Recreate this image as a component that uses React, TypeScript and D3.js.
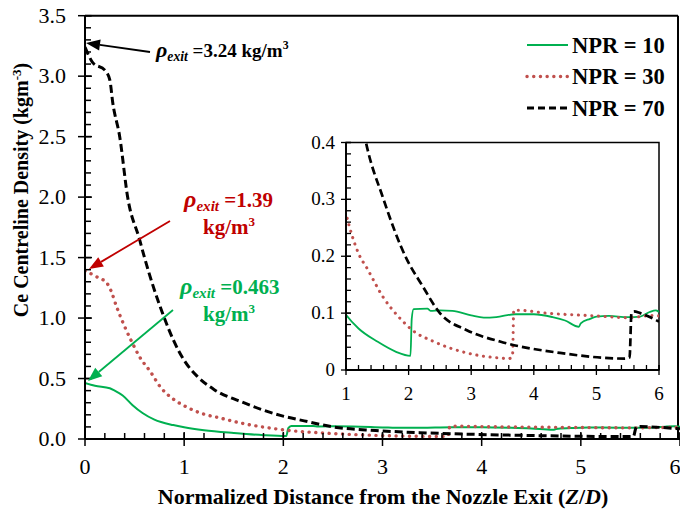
import React from 'react';
import * as d3 from 'd3';

// centreline density
const z10 = [0, 0.1, 0.25, 0.3, 0.38, 0.48, 0.58, 0.7, 0.89, 1.0, 1.2, 1.5, 1.8, 2.03, 2.05, 2.08, 2.3, 2.35, 2.5, 2.7, 3.0, 3.2, 3.4, 3.7, 4.0, 4.3, 4.5, 4.72, 4.75, 4.9, 5.0, 5.2, 5.5, 5.7, 5.85, 5.95, 6.0];
const rho10 = [0.463, 0.44, 0.42, 0.4, 0.36, 0.28, 0.215, 0.16, 0.115, 0.097, 0.073, 0.05, 0.032, 0.025, 0.09, 0.107, 0.108, 0.104, 0.105, 0.104, 0.096, 0.092, 0.093, 0.098, 0.098, 0.093, 0.087, 0.076, 0.082, 0.09, 0.094, 0.095, 0.093, 0.094, 0.102, 0.105, 0.102];

const z30 = [0, 0.12, 0.22, 0.26, 0.32, 0.4, 0.48, 0.55, 0.66, 0.76, 0.89, 1.0, 1.2, 1.34, 1.6, 1.87, 2.06, 2.4, 2.93, 3.46, 3.6, 3.66, 3.68, 3.75, 4.2, 5.0, 5.5, 5.9, 6.0];
const rho30 = [1.39, 1.34, 1.29, 1.23, 1.09, 0.93, 0.79, 0.68, 0.556, 0.43, 0.33, 0.275, 0.205, 0.178, 0.127, 0.09, 0.07, 0.05, 0.03, 0.021, 0.02, 0.025, 0.105, 0.105, 0.1, 0.095, 0.092, 0.096, 0.095];

const z70 = [0, 0.08, 0.2, 0.25, 0.28, 0.35, 0.43, 0.55, 0.6, 0.8, 0.89, 1.0, 1.13, 1.3, 1.6, 1.97, 2.21, 2.5, 2.93, 3.46, 4.42, 5.45, 5.53, 5.56, 5.6, 5.7, 6.0];
const rho70 = [3.24, 3.11, 3.05, 2.97, 2.78, 2.5, 2.0, 1.65, 1.5, 1.0, 0.82, 0.65, 0.52, 0.41, 0.3, 0.195, 0.15, 0.1, 0.07, 0.05, 0.03, 0.02, 0.022, 0.1, 0.103, 0.1, 0.085];

const seriesNames = ['NPR = 10', 'NPR = 30', 'NPR = 70'];
const mainXTicks = [0, 1, 2, 3, 4, 5, 6];
const mainYTicks = [0, 0.5, 1.0, 1.5, 2.0, 2.5, 3.0, 3.5];
const insetXTicks = [1, 2, 3, 4, 5, 6];
const insetYTicks = [0, 0.1, 0.2, 0.3, 0.4];

const GREEN = '#00b050';
const RED = '#c0504d';
const DARKRED = '#c00000';

const styles = [
  { stroke: GREEN, width: 2, dash: null, cap: 'butt' },
  { stroke: RED, width: 3.4, dash: '0.1 6.6', cap: 'round' },
  { stroke: '#000', width: 3, dash: '8 4', cap: 'butt' },
];

const TF = { fontFamily: "'Liberation Serif'" };

export default function App() {
  const x = d3.scaleLinear().domain([0, 6]).range([85, 680]);
  const y = d3.scaleLinear().domain([0, 3.5]).range([439, 15.7]);
  const ix = d3.scaleLinear().domain([1, 6]).range([346, 659]);
  const iy = d3.scaleLinear().domain([0, 0.4]).range([370, 142.5]);

  const data = [
    z10.map((z, i) => [z, rho10[i]]),
    z30.map((z, i) => [z, rho30[i]]),
    z70.map((z, i) => [z, rho70[i]]),
  ];

  const mainLine = d3.line<number[]>().x(d => x(d[0])).y(d => y(d[1])).curve(d3.curveMonotoneX);
  const insetLine = d3.line<number[]>().x(d => ix(d[0])).y(d => iy(d[1])).curve(d3.curveMonotoneX);

  const mainMinorY = d3.range(0, 3.51, 0.1);
  const mainMinorX = d3.range(0, 6.01, 0.2);
  const insetMinorY = d3.range(0, 0.401, 0.02);
  const insetMinorX = d3.range(1, 6.01, 0.2);

  const arrow = (x1, y1, x2, y2, color, key) => {
    const a = Math.atan2(y2 - y1, x2 - x1);
    const L = 14, W = 5.5;
    const bx = x2 - L * Math.cos(a), by = y2 - L * Math.sin(a);
    const px = -Math.sin(a) * W, py = Math.cos(a) * W;
    return (
      <g key={key}>
        <line x1={x1} y1={y1} x2={bx} y2={by} stroke={color} strokeWidth={1.8} />
        <polygon points={`${x2},${y2} ${bx + px},${by + py} ${bx - px},${by - py}`} fill={color} />
      </g>
    );
  };

  const rhoExit = (tx, ty, val, color, size, unitsInline, ux?, uy?) => (
    <g fill={color} fontWeight="bold">
      <text x={tx} y={ty} fontSize={size} style={TF}>
        <tspan fontStyle="italic" fontSize={size + 3}>ρ</tspan>
        <tspan fontStyle="italic" fontSize={size * 0.72} dy={4}>exit</tspan>
        <tspan dy={-4}> ={val}{unitsInline ? ' kg/m' : ''}</tspan>
        {unitsInline && <tspan fontSize={size * 0.62} dy={-8}>3</tspan>}
      </text>
      {!unitsInline && (
        <text x={ux} y={uy} fontSize={size} style={TF}>
          kg/m<tspan fontSize={size * 0.62} dy={-8}>3</tspan>
        </text>
      )}
    </g>
  );

  return (
    <svg width={680} height={512} style={{ position: 'absolute', left: 0, top: 0 }}>
      <rect width={680} height={512} fill="#fff" />
      <defs>
        <clipPath id="insetClip">
          <rect x={ix(1)} y={iy(0.4)} width={ix(6) - ix(1)} height={iy(0) - iy(0.4)} />
        </clipPath>
        <clipPath id="mainClip">
          <rect x={x(0)} y={y(3.5)} width={x(6) - x(0)} height={y(0) - y(3.5)} />
        </clipPath>
      </defs>

      {/* frame */}
      <line x1={x(0)} x2={678} y1={y(3.5)} y2={y(3.5)} stroke="#000" strokeWidth={2} />
      <line x1={678} x2={678} y1={y(3.5)} y2={y(0)} stroke="#000" strokeWidth={2} />

      {/* main curves */}
      <g clipPath="url(#mainClip)">
        {data.map((d, i) => (
          <path key={i} d={mainLine(d)} fill="none" stroke={styles[i].stroke} strokeWidth={styles[i].width}
            strokeDasharray={styles[i].dash || undefined} strokeLinecap={styles[i].cap} />
        ))}
      </g>

      {/* main axes */}
      <line x1={x(0)} x2={x(0)} y1={y(0)} y2={y(3.5)} stroke="#000" strokeWidth={2} />
      <line x1={x(0)} x2={680} y1={y(0)} y2={y(0)} stroke="#000" strokeWidth={2} />
      {mainMinorY.map(v => (
        <line key={'my' + v} x1={x(0)} x2={x(0) + 6} y1={y(v)} y2={y(v)} stroke="#000" strokeWidth={1.5} />
      ))}
      {mainYTicks.map(v => (
        <g key={'Y' + v}>
          <line x1={x(0) - 7} x2={x(0) + 7} y1={y(v)} y2={y(v)} stroke="#000" strokeWidth={1.5} />
          <text x={66} y={y(v) + 7} fontSize={22} textAnchor="end" style={TF}>{v.toFixed(1)}</text>
        </g>
      ))}
      {mainMinorX.map(v => (
        <line key={'mx' + v} x1={x(v)} x2={x(v)} y1={y(0)} y2={y(0) - 6} stroke="#000" strokeWidth={1.5} />
      ))}
      {mainXTicks.map(v => (
        <g key={'X' + v}>
          <line x1={x(v)} x2={x(v)} y1={y(0) - 7} y2={y(0) + 7} stroke="#000" strokeWidth={1.5} />
          <text x={Math.min(x(v), 675)} y={474} fontSize={22} textAnchor="middle" style={TF}>{v}</text>
        </g>
      ))}

      {/* axis titles */}
      <text x={383} y={504} fontSize={22} fontWeight="bold" textAnchor="middle" style={TF}>
        Normalized Distance from the Nozzle Exit (<tspan fontStyle="italic">Z</tspan>/<tspan fontStyle="italic">D</tspan>)
      </text>
      <text transform="translate(28,190) rotate(-90)" fontSize={20} fontWeight="bold" textAnchor="middle" style={TF}>
        Ce Centreline Density (kgm<tspan fontSize={13} dy={-7}>-3</tspan><tspan dy={7}>)</tspan>
      </text>

      {/* inset */}
      <rect x={ix(1)} y={iy(0.4)} width={ix(6) - ix(1)} height={iy(0) - iy(0.4)} fill="#fff" stroke="#000" strokeWidth={1.5} />
      <g clipPath="url(#insetClip)">
        {data.map((d, i) => (
          <path key={i} d={insetLine(d)} fill="none" stroke={styles[i].stroke} strokeWidth={styles[i].width * 0.9}
            strokeDasharray={styles[i].dash || undefined} strokeLinecap={styles[i].cap} />
        ))}
      </g>
      <line x1={ix(1)} x2={ix(1)} y1={iy(0)} y2={iy(0.4)} stroke="#000" strokeWidth={1.8} />
      <line x1={ix(1)} x2={ix(6)} y1={iy(0)} y2={iy(0)} stroke="#000" strokeWidth={1.8} />
      {insetMinorY.map(v => (
        <line key={'iy' + v} x1={ix(1)} x2={ix(1) + 5} y1={iy(v)} y2={iy(v)} stroke="#000" strokeWidth={1.3} />
      ))}
      {insetYTicks.map(v => (
        <g key={'IY' + v}>
          <line x1={ix(1) - 5} x2={ix(1) + 5} y1={iy(v)} y2={iy(v)} stroke="#000" strokeWidth={1.3} />
          <text x={335} y={iy(v) + 6} fontSize={19} textAnchor="end" style={TF}>{v === 0 ? '0' : v.toFixed(1)}</text>
        </g>
      ))}
      {insetMinorX.map(v => (
        <line key={'ix' + v} x1={ix(v)} x2={ix(v)} y1={iy(0)} y2={iy(0) - 5} stroke="#000" strokeWidth={1.3} />
      ))}
      {insetXTicks.map(v => (
        <g key={'IX' + v}>
          <line x1={ix(v)} x2={ix(v)} y1={iy(0) - 5} y2={iy(0) + 5} stroke="#000" strokeWidth={1.3} />
          <text x={ix(v)} y={400} fontSize={19} textAnchor="middle" style={TF}>{v}</text>
        </g>
      ))}

      {/* legend */}
      {seriesNames.map((name, i) => (
        <g key={name}>
          <line x1={527} x2={568} y1={45 + i * 31.5} y2={45 + i * 31.5} stroke={styles[i].stroke}
            strokeWidth={styles[i].width} strokeDasharray={i === 2 ? '7 4' : styles[i].dash || undefined}
            strokeLinecap={styles[i].cap} />
          <text x={572} y={52.5 + i * 31.5} fontSize={22.5} fontWeight="bold" style={TF}>{name}</text>
        </g>
      ))}

      {/* annotations */}
      {arrow(150, 52, 86, 43, '#000', 'a1')}
      {rhoExit(156, 57, '3.24', '#000', 19, true)}
      {arrow(170, 221, 89, 269, DARKRED, 'a2')}
      {rhoExit(184, 207, '1.39', DARKRED, 21, false, 203, 234)}
      {arrow(173, 310, 88, 381, GREEN, 'a3')}
      {rhoExit(180, 294, '0.463', GREEN, 21, false, 203, 321)}
    </svg>
  );
}
